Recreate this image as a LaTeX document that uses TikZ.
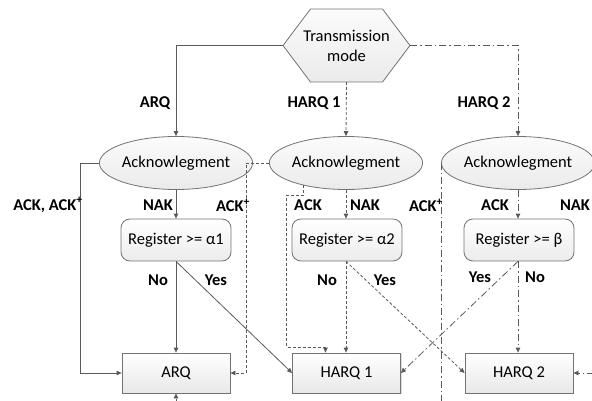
\documentclass[tikz,border=0pt]{standalone}
\usepackage{fontspec}
\setmainfont{Carlito}
\usetikzlibrary{arrows.meta,shapes.geometric,shadows,calc}
\definecolor{ln}{RGB}{89,89,89}
\definecolor{bd}{RGB}{115,115,115}
\begin{document}
\begin{tikzpicture}[x=1pt,y=-1pt,
  every node/.style={font=\fontsize{16.5}{20}\selectfont},
  lbl/.style={font=\fontsize{16.5}{20}\selectfont\bfseries, inner sep=0pt},
  ackn/.style={ellipse, draw=bd, line width=0.8pt, top color=gray!3, bottom color=gray!16, minimum width=138pt, minimum height=53pt, inner sep=0pt},
  regn/.style={rectangle, rounded corners=9pt, draw=bd, line width=0.8pt, top color=white, bottom color=gray!15, minimum width=110pt, minimum height=42pt, inner sep=0pt},
  outn/.style={rectangle, draw=bd, line width=0.8pt, top color=white, bottom color=gray!18, minimum width=108pt, minimum height=40pt, inner sep=0pt, drop shadow={shadow xshift=1pt,shadow yshift=-1pt,opacity=0.25}},
  solidln/.style={draw=ln, line width=0.8pt, -{Triangle[length=5pt,width=4.5pt]}},
  dashln/.style={solidln, dash pattern=on 3pt off 2pt},
  dotdashln/.style={solidln, dash pattern=on 7pt off 3pt on 1.5pt off 3pt},
]
\useasboundingbox (0,0) rectangle (592,401);
% hexagon
\coordinate (mc) at (346.5,45.5);
\draw[draw=bd, line width=0.8pt, top color=gray!3, bottom color=gray!16]
  ($(mc)+(-63.5,0)$) -- ($(mc)+(-36,-36.5)$) -- ($(mc)+(36,-36.5)$) -- ($(mc)+(63.5,0)$)
  -- ($(mc)+(36,36.5)$) -- ($(mc)+(-36,36.5)$) -- cycle;
\node[minimum width=127pt, minimum height=73pt, inner sep=0pt, align=center] (mode) at (mc) {Transmission\\mode};

% acknowledgment ellipses
\node[ackn] (ack1) at (176,163) {Acknowlegment};
\node[ackn] (ack2) at (346,163) {Acknowlegment};
\node[ackn] (ack3) at (518,163) {Acknowlegment};

% register boxes
\node[regn] (reg1) at (176,240) {Register >= α1};
\node[regn] (reg2) at (347,240) {Register >= α2};
\node[regn] (reg3) at (519,240) {Register >= β};

% output boxes
\node[outn] (arq) at (176,373) {ARQ};
\node[outn] (harq1) at (346.5,373) {HARQ 1};
\node[outn] (harq2) at (519,373) {HARQ 2};

% connectors from mode
\draw[solidln] (mode.west) -| (ack1.north);
\draw[dashln] (mode.south) -- (ack2.north);
\draw[dotdashln] (mode.east) -| (ack3.north);

% ARQ column
\draw[solidln] (ack1.west) -- ++(-19,0) |- (arq.west);
\draw[solidln] (ack1.south) -- (reg1.north);
\draw[solidln] (reg1.south) -- (arq.north);
\draw[solidln] (reg1.south) -- (harq1.west);

% HARQ1 column
\draw[dashln] (ack2.west) -- ++(-23,0) |- (arq.east);
\draw[dashln] (ack2.208) -- ++(0,10) -| ++(-17,152) -| ($(harq1.north)+(-21,0)$);
\draw[dashln] (ack2.south) -- (ack2.south |- reg2.north);
\draw[dashln] (ack2.south |- reg2.south) -- (ack2.south |- harq1.north);
\draw[dashln] (ack2.south |- reg2.south) -- (harq2.west);

% HARQ2 column
\draw[dotdashln] (ack3.west) -- ++(0,250) -| (arq.south);
\draw[dotdashln] (ack3.south) -- (ack3.south |- reg3.north);
\draw[dotdashln] (ack3.east) -- ++(25,0) |- (harq2.east);
\draw[dotdashln] (ack3.south |- reg3.south) -- (ack3.south |- harq2.north);
\draw[dotdashln] (ack3.south |- reg3.south) -- (harq1.east);

% labels
\node[lbl] (l1) at (155,103) {ARQ};
\node[lbl] (l2) at (314,103) {HARQ 1};
\node[lbl] (l3) at (484,103) {HARQ 2};
\node[lbl] (l4) at (48,205) {ACK, ACK\textsuperscript{+}};
\node[lbl] (l5) at (158,205) {NAK};
\node[lbl] (l6) at (233,205) {ACK\textsuperscript{+}};
\node[lbl] (l7) at (308,205) {ACK};
\node[lbl] (l8) at (365,205) {NAK};
\node[lbl] (l9) at (426,205) {ACK\textsuperscript{+}};
\node[lbl] (l10) at (495,205) {ACK};
\node[lbl] (l11) at (575,205) {NAK};
\node[lbl] (l12) at (158,280) {No};
\node[lbl] (l13) at (216,280) {Yes};
\node[lbl] (l14) at (327,280) {No};
\node[lbl] (l15) at (385,280) {Yes};
\node[lbl] (l16) at (480,277) {Yes};
\node[lbl] (l17) at (535,277) {No};
\end{tikzpicture}
\end{document}
